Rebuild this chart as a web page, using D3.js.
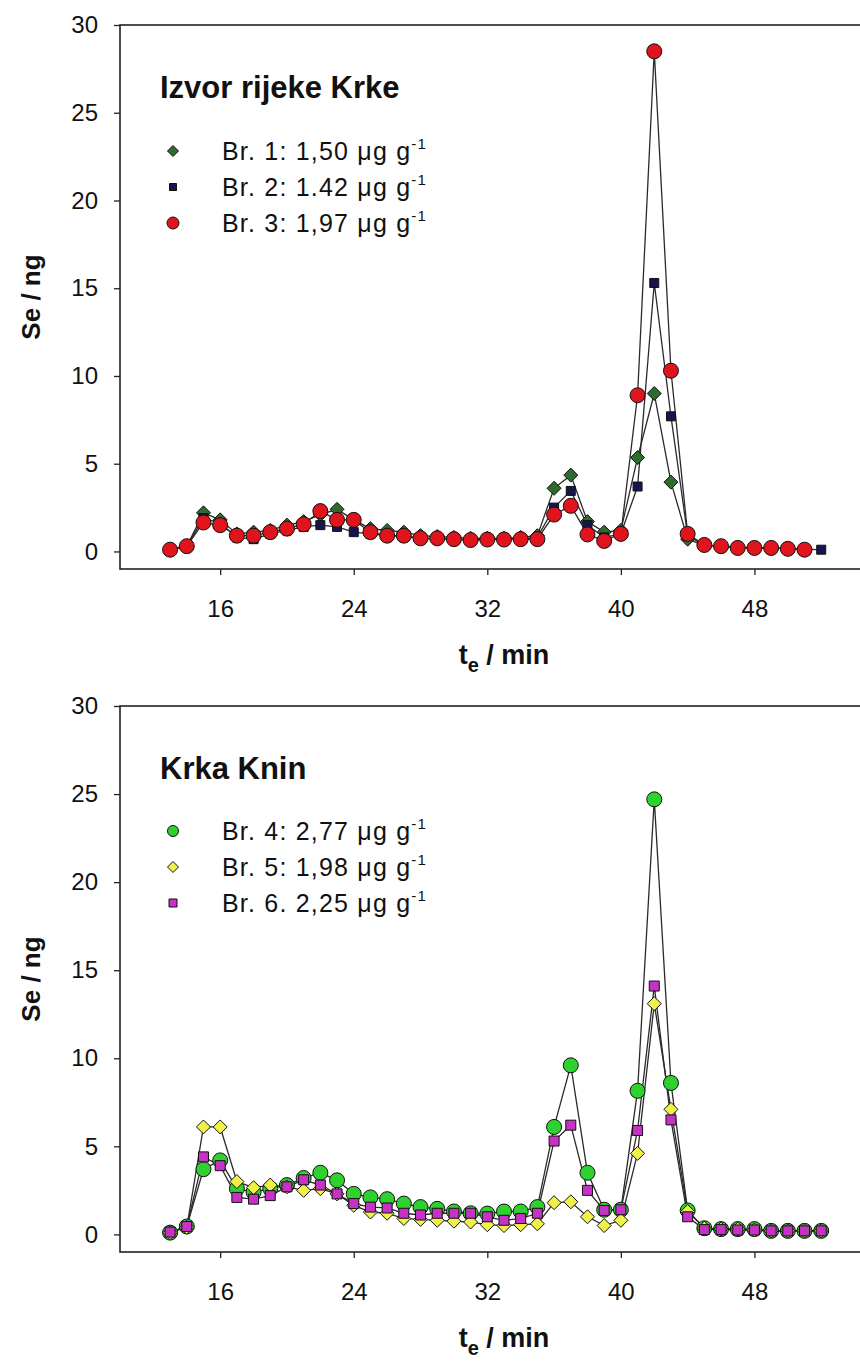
<!DOCTYPE html>
<head>
<meta charset="utf-8">
<script src="https://d3js.org/d3.v7.min.js"></script>
<style>
  body { margin: 0; background: #fff; }
  text { font-family: "Liberation Sans", Arial, sans-serif; fill: #111; }
  .axis text { font-size: 24px; }
  .axis line { stroke: #222; stroke-width: 1.3px; }
  .axis path { display: none; }
</style>
</head>
<body>
<script>
// elution time (min)
var times = d3.range(13, 53);

// Izvor rijeke Krke
var br1 = [0.1, 0.3, 2.2, 1.8, 1.0, 1.1, 1.2, 1.5, 1.7, 2.1, 2.4, 1.8, 1.3, 1.2, 1.1, 0.9, 0.85, 0.8, 0.75, 0.75,
           0.75, 0.8, 0.9, 3.6, 4.35, 1.7, 1.1, 1.2, 5.35, 9.0, 3.95, 0.7, 0.35, 0.3, 0.25, 0.2, 0.2, 0.15, 0.1];
var br2 = [0.1, 0.3, 1.9, 1.6, 0.8, 0.7, 1.0, 1.2, 1.4, 1.5, 1.4, 1.1, 1.0, 0.9, 0.85, 0.75, 0.7, 0.7, 0.65, 0.7,
           0.7, 0.7, 0.8, 2.5, 3.45, 1.5, 0.8, 1.0, 3.7, 15.3, 7.7, 0.9, 0.35, 0.3, 0.25, 0.2, 0.2, 0.15, 0.12, 0.1];
var br3 = [0.1, 0.3, 1.65, 1.5, 0.9, 0.9, 1.1, 1.3, 1.55, 2.3, 1.8, 1.8, 1.1, 0.9, 0.9, 0.75, 0.75, 0.7, 0.65, 0.68,
           0.68, 0.7, 0.7, 2.1, 2.6, 0.97, 0.6, 1.0, 8.9, 28.5, 10.3, 1.0, 0.37, 0.3, 0.2, 0.2, 0.2, 0.15, 0.1];

// Krka Knin
var br4 = [0.1, 0.45, 3.7, 4.2, 2.6, 2.4, 2.6, 2.8, 3.2, 3.5, 3.07, 2.3, 2.1, 2.0, 1.75, 1.55, 1.45, 1.3, 1.2, 1.18,
           1.3, 1.3, 1.55, 6.1, 9.6, 3.5, 1.4, 1.4, 8.15, 24.7, 8.6, 1.36, 0.35, 0.3, 0.3, 0.3, 0.2, 0.2, 0.2, 0.2];
var br5 = [0.1, 0.4, 6.1, 6.1, 3.0, 2.65, 2.8, 2.7, 2.5, 2.6, 2.3, 1.65, 1.27, 1.2, 0.9, 0.85, 0.8, 0.75, 0.7, 0.55,
           0.5, 0.55, 0.6, 1.8, 1.85, 1.0, 0.5, 0.8, 4.6, 13.1, 7.1, 1.3, 0.35, 0.3, 0.3, 0.25, 0.2, 0.2, 0.2, 0.2];
var br6 = [0.13, 0.45, 4.4, 3.9, 2.1, 2.0, 2.2, 2.7, 3.1, 2.8, 2.3, 1.75, 1.55, 1.5, 1.2, 1.1, 1.2, 1.2, 1.2, 1.0,
           0.8, 0.9, 1.2, 5.3, 6.2, 2.5, 1.36, 1.4, 5.9, 14.1, 6.5, 1.0, 0.27, 0.27, 0.25, 0.25, 0.2, 0.2, 0.2, 0.2];

var xTicks = [16, 24, 32, 40, 48];
var yTicks = [0, 5, 10, 15, 20, 25, 30];
var xDomain = [10, 56];
var yDomain = [-1, 30];

var panelTitles = ["Izvor rijeke Krke", "Krka Knin"];
var labels1 = ["Br. 1: 1,50 \u03bcg g", "Br. 2: 1.42 \u03bcg g", "Br. 3: 1,97 \u03bcg g"];
var labels2 = ["Br. 4: 2,77 \u03bcg g", "Br. 5: 1,98 \u03bcg g", "Br. 6. 2,25 \u03bcg g"];

var svg = d3.select("body").append("svg")
    .attr("width", 860)
    .attr("height", 1367);

// marker paths
function markerPath(type, s) {
  if (type == "circle") return d3.symbol(d3.symbolCircle, Math.PI * s * s)();
  if (type == "square") return d3.symbol(d3.symbolSquare, s * s)();
  // diamond = square turned 45 deg, s = half diagonal
  return "M0," + (-s) + "L" + s + ",0L0," + s + "L" + (-s) + ",0Z";
}

function drawPanel(top, bottom, title, series, legendY) {
  var x = d3.scaleLinear().domain(xDomain).range([120, 888]);
  var y = d3.scaleLinear().domain(yDomain).range([bottom, top]);

  var g = svg.append("g");

  g.append("g")
      .attr("class", "axis")
      .attr("transform", "translate(0," + bottom + ")")
      .call(d3.axisBottom(x).tickValues(xTicks).tickSize(6).tickPadding(25));

  g.append("g")
      .attr("class", "axis")
      .attr("transform", "translate(120,0)")
      .call(d3.axisLeft(y).tickValues(yTicks).tickSize(6).tickPadding(16));

  g.append("rect")
      .attr("x", 120).attr("y", top)
      .attr("width", 768).attr("height", bottom - top)
      .attr("fill", "none")
      .attr("stroke", "#222")
      .attr("stroke-width", 1.6);

  var line = d3.line()
      .x(function(d, i) { return x(times[i]); })
      .y(function(d) { return y(d); });

  series.forEach(function(s) {
    g.append("path")
        .attr("d", line(s.values))
        .attr("fill", "none")
        .attr("stroke", "#2a2a2a")
        .attr("stroke-width", 1.3);
  });

  series.forEach(function(s) {
    g.selectAll(null)
        .data(s.values)
        .enter().append("path")
        .attr("d", markerPath(s.type, s.size))
        .attr("transform", function(d, i) { return "translate(" + x(times[i]) + "," + y(d) + ")"; })
        .attr("fill", s.color)
        .attr("stroke", "#111")
        .attr("stroke-width", 1);
  });

  // panel title
  g.append("text")
      .attr("x", 160).attr("y", top + 73)
      .attr("font-size", 31)
      .attr("font-weight", "bold")
      .text(title);

  // legend
  series.forEach(function(s, i) {
    var ly = legendY + i * 36;
    g.append("path")
        .attr("d", markerPath(s.type, s.legendSize))
        .attr("transform", "translate(173," + ly + ")")
        .attr("fill", s.color)
        .attr("stroke", "#111")
        .attr("stroke-width", 1);
    var t = g.append("text")
        .attr("x", 222).attr("y", ly + 9)
        .attr("font-size", 25)
        .attr("letter-spacing", 1.2);
    t.append("tspan").text(s.label);
    t.append("tspan").attr("dy", -11).attr("font-size", 15).text("-1");
  });

  // axis titles
  g.append("text")
      .attr("transform", "translate(40," + ((top + bottom) / 2) + ") rotate(-90)")
      .attr("text-anchor", "middle")
      .attr("font-size", 26)
      .attr("font-weight", "bold")
      .text("Se / ng");

  var xt = g.append("text")
      .attr("x", 504).attr("y", bottom + 95)
      .attr("text-anchor", "middle")
      .attr("font-size", 27)
      .attr("font-weight", "bold");
  xt.append("tspan").text("t");
  xt.append("tspan").attr("dy", 8).attr("font-size", 20).text("e");
  xt.append("tspan").attr("dy", -8).text(" / min");
}

drawPanel(25, 569, panelTitles[0], [
  {values: br1, type: "diamond", size: 7, legendSize: 5.5, color: "#2f6b2f", label: labels1[0]},
  {values: br2, type: "square", size: 9, legendSize: 7, color: "#16164f", label: labels1[1]},
  {values: br3, type: "circle", size: 7.5, legendSize: 6, color: "#e0141c", label: labels1[2]}
], 151);

drawPanel(706, 1252, panelTitles[1], [
  {values: br4, type: "circle", size: 7.5, legendSize: 5.5, color: "#2fd12f", label: labels2[0]},
  {values: br5, type: "diamond", size: 7, legendSize: 5.5, color: "#f0f04a", label: labels2[1]},
  {values: br6, type: "square", size: 10, legendSize: 8, color: "#c632c6", label: labels2[2]}
], 831);
</script>
</body>
